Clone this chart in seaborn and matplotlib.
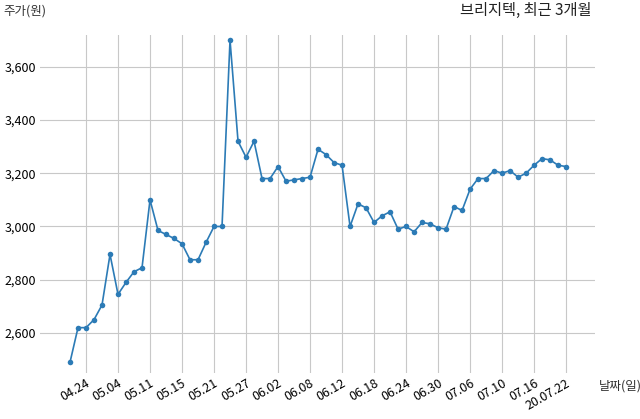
import matplotlib
matplotlib.use("Agg")
import matplotlib.pyplot as plt
import seaborn as sns
import pandas as pd

prices = [2490,2620,2620,2650,2705,2895,2745,2790,2830,2845,3100,2985,2970,2955,2935,2875,2875,2940,3000,3000,
          3700,3320,3260,3320,3180,3180,3225,3170,3175,3180,3185,3290,3270,3240,3230,3000,3085,3070,3015,3040,
          3055,2990,3000,2980,3015,3010,2995,2990,3075,3060,3140,3180,3180,3210,3200,3210,3185,3200,3230,3255,
          3250,3230,3225]
tick_labels = ["04.24","05.04","05.11","05.15","05.21","05.27","06.02","06.08","06.12","06.18",
               "06.24","06.30","07.06","07.10","07.16","20.07.22"]
y_ticks = [2600,2800,3000,3200,3400,3600]

plt.rcParams["font.family"] = "Noto Sans CJK KR"
df = pd.DataFrame({"idx": range(len(prices)), "price": prices})
fig = plt.figure(figsize=(6.4, 4.19), dpi=100)
ax = fig.add_axes([0.0625, 0.110, 0.867, 0.807])
sns.lineplot(data=df, x="idx", y="price", ax=ax, color="#2c7bb6", marker="o",
             markersize=4, markeredgewidth=0, linewidth=1.2)
ax.set_xlim(-3.75, 65.6)
ax.set_ylim(2450, 3720)
ax.set_xticks(list(range(2, len(prices), 4)))
ax.set_xticklabels(tick_labels, rotation=30, ha="right", fontsize=9, rotation_mode="anchor")
ax.set_yticks(y_ticks)
ax.set_yticklabels([f"{v:,}" for v in y_ticks], fontsize=9)
ax.grid(True, color="#c8c8c8", linewidth=0.8)
for s in ax.spines.values():
    s.set_visible(False)
ax.tick_params(length=0, pad=3)
ax.set_xlabel(""); ax.set_ylabel("")
fig.text(0.005, 0.965, "주가(원)", fontsize=9, color="#333333")
fig.text(0.935, 0.07, "날짜(일)", fontsize=9, color="#333333")
fig.text(0.925, 0.965, "브리지텍, 최근 3개월", fontsize=11, ha="right", color="#222222")
fig.savefig("out.png", dpi=100)
